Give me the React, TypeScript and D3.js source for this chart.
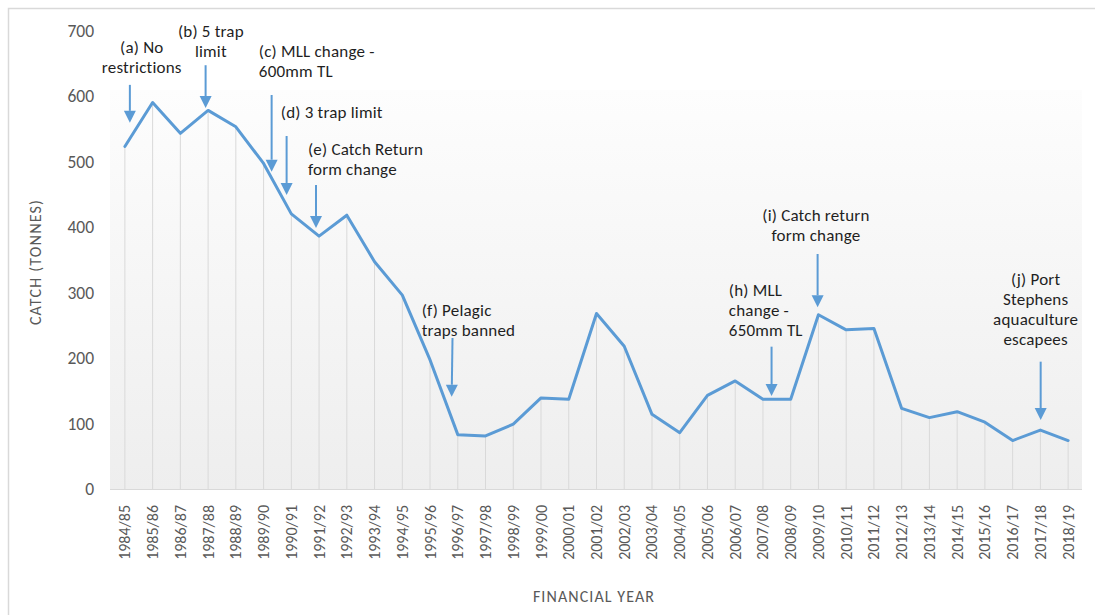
import React from "react";
import * as d3 from "d3";

const YEARS: string[] = [
  "1984/85", "1985/86", "1986/87", "1987/88", "1988/89", "1989/90", "1990/91",
  "1991/92", "1992/93", "1993/94", "1994/95", "1995/96", "1996/97", "1997/98",
  "1998/99", "1999/00", "2000/01", "2001/02", "2002/03", "2003/04", "2004/05",
  "2005/06", "2006/07", "2007/08", "2008/09", "2009/10", "2010/11", "2011/12",
  "2012/13", "2013/14", "2014/15", "2015/16", "2016/17", "2017/18", "2018/19",
];

const CATCH: number[] = [
  523, 590, 543, 578, 553, 497, 420, 386, 418, 347, 296, 197, 83, 81, 99, 139,
  137, 268, 218, 114, 86, 143, 165, 137, 137, 266, 243, 245, 123, 109, 118, 102,
  74, 90, 74,
];

const Y_TICKS: number[] = [0, 100, 200, 300, 400, 500, 600, 700];

// Annotations in data coordinates: category index (fractional) and catch value
const NOTE_LINES: string[][] = [
  ["(a) No", "restrictions"],
  ["(b) 5 trap", "limit"],
  ["(c) MLL change -", "600mm TL"],
  ["(d) 3 trap limit"],
  ["(e) Catch Return", "form change"],
  ["(f) Pelagic", "traps banned"],
  ["(h) MLL", "change -", "650mm TL"],
  ["(i) Catch return", "form change"],
  ["(j) Port", "Stephens", "aquaculture", "escapees"],
];
const NOTE_TEXT_IDX: number[] = [0.61, 3.1, 4.83, 5.62, 6.6, 10.7, 21.77, 24.91, 32.83];
const NOTE_TEXT_VAL: number[] = [665.6, 690, 659.5, 566.4, 509.9, 264.1, 294.7, 409.2, 311.5];
const NOTE_ANCHOR: string[] = ["middle", "middle", "start", "start", "start", "start", "start", "middle", "middle"];
const ARROW_FROM_IDX: number[] = [0.18, 2.91, 5.29, 5.83, 6.89, 11.81, 23.31, 24.97, 33.01];
const ARROW_TO_IDX: number[] = [0.18, 2.91, 5.29, 5.83, 6.89, 11.78, 23.31, 24.97, 33.01];
const ARROW_FROM_VAL: number[] = [617, 647, 601.5, 538.9, 464.1, 230.5, 217.3, 358.8, 194.4];
const ARROW_TO_VAL: number[] = [559, 581.7, 484.4, 448.9, 398.5, 140.9, 142, 277.4, 105.3];

const W = 1095;
const H = 615;
const FONT = "Carlito, Calibri, Lato, 'Open Sans', sans-serif";
const BLUE = "#5b9bd5";
const GRAY_TEXT = "#595959";

export default function App() {
  const plotLeft = 111;
  const plotRight = 1082;
  const plotBottom = 489;
  const plotTop = 30.5;

  const x = d3.scaleBand<string>().domain(YEARS).range([plotLeft, plotRight]).padding(0);
  const cx = (i: number) => (x(YEARS[i]) as number) + x.bandwidth() / 2;
  const xi = d3.scaleLinear().domain([0, YEARS.length - 1]).range([cx(0), cx(YEARS.length - 1)]);
  const y = d3.scaleLinear().domain([0, 700]).range([plotBottom, plotTop]);

  const line = d3
    .line<number>()
    .x((_, i) => cx(i))
    .y((d) => y(d));

  const headLen = 12;
  const headHalf = 6;

  return (
    <svg
      width={W}
      height={H}
      style={{ position: "absolute", left: 0, top: 0, background: "#fff" }}
      fontFamily={FONT}
    >
      <defs>
        <linearGradient id="plotGrad" x1="0" y1="0" x2="0" y2="1">
          <stop offset="0%" stopColor="#fdfdfd" />
          <stop offset="100%" stopColor="#eeeeee" />
        </linearGradient>
      </defs>
      <rect x={8.5} y={8.5} width={W + 20} height={H + 20} fill="#fff" stroke="#d9d9d9" strokeWidth={1.5} />

      <rect x={plotLeft - 1} y={90} width={plotRight - plotLeft + 1} height={plotBottom - 90} fill="url(#plotGrad)" />

      {/* drop lines */}
      {CATCH.map((v, i) => (
        <line key={"d" + i} x1={cx(i)} x2={cx(i)} y1={y(v)} y2={plotBottom} stroke="#d9d9d9" strokeWidth={1} />
      ))}

      {/* x axis line */}
      <line x1={plotLeft - 1} x2={plotRight} y1={plotBottom + 0.5} y2={plotBottom + 0.5} stroke="#d9d9d9" strokeWidth={1.2} />

      {/* y tick labels */}
      {Y_TICKS.map((t) => (
        <text key={"y" + t} x={94} y={y(t)} dy="0.35em" textAnchor="end" fontSize={17.5} fill={GRAY_TEXT}>
          {t}
        </text>
      ))}

      {/* x tick labels */}
      {YEARS.map((yr, i) => (
        <text
          key={"x" + yr}
          transform={`translate(${cx(i) + 5.5},${505}) rotate(-90)`}
          textAnchor="end"
          fontSize={16}
          fill={GRAY_TEXT}
        >
          {yr}
        </text>
      ))}

      {/* axis titles */}
      <text transform={`translate(41,262) rotate(-90)`} textAnchor="middle" fontSize={16} letterSpacing={1.2} fill={GRAY_TEXT}>
        CATCH (TONNES)
      </text>
      <text x={594} y={602} textAnchor="middle" fontSize={16} letterSpacing={1.1} fill={GRAY_TEXT}>
        FINANCIAL YEAR
      </text>

      {/* series line */}
      <path d={line(CATCH) || ""} fill="none" stroke={BLUE} strokeWidth={3} strokeLinejoin="round" strokeLinecap="round" />

      {/* annotations */}
      {NOTE_LINES.map((lines, k) => {
        const tx = xi(NOTE_TEXT_IDX[k]);
        const ty = y(NOTE_TEXT_VAL[k]);
        const x1 = xi(ARROW_FROM_IDX[k]);
        const y1 = y(ARROW_FROM_VAL[k]);
        const x2 = xi(ARROW_TO_IDX[k]);
        const y2 = y(ARROW_TO_VAL[k]);
        const ang = Math.atan2(y2 - y1, x2 - x1);
        const bx = x2 - headLen * Math.cos(ang);
        const by = y2 - headLen * Math.sin(ang);
        const px = -Math.sin(ang) * headHalf;
        const py = Math.cos(ang) * headHalf;
        return (
          <g key={"n" + k}>
            <text x={tx} y={ty} textAnchor={NOTE_ANCHOR[k] as any} fontSize={17} letterSpacing={0.2} fill="#1f1f1f">
              {lines.map((ln, j) => (
                <tspan key={j} x={tx} dy={j === 0 ? 0 : 20}>
                  {ln}
                </tspan>
              ))}
            </text>
            <line x1={x1} y1={y1} x2={bx} y2={by} stroke={BLUE} strokeWidth={2} />
            <polygon points={`${x2},${y2} ${bx + px},${by + py} ${bx - px},${by - py}`} fill={BLUE} />
          </g>
        );
      })}
    </svg>
  );
}
